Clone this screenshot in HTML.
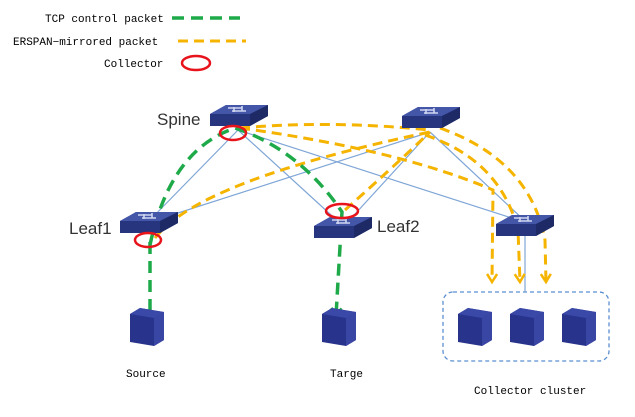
<!DOCTYPE html>
<html><head><style>body{margin:0;background:#fff}svg{display:block}</style></head><body>
<svg width="635" height="417" viewBox="0 0 635 417" xmlns="http://www.w3.org/2000/svg">
<defs>
<g id="sw"><polygon points="-28,-4 -12,-13 30,-13 30,-2 12,8 -28,8" fill="#2d3d8f"/><polygon points="-28,-4 12,-4 30,-13 -12,-13" fill="#4456a8"/><polygon points="-28,-4 12,-4 12,8 -28,8" fill="#27357e"/><polygon points="12,-4 30,-13 30,-2 12,8" fill="#1e2a66"/><path d="M-10,-10 h14 M-6,-7 h14 M4,-12 v5 M-4,-11 v5" stroke="#cfd6f0" stroke-width="1.6" fill="none"/></g>
<g id="sv"><polygon points="-16,-12 -6,-18 18,-14 18,14 8,20 -16,16" fill="#28348c"/><polygon points="8,-8 18,-14 18,14 8,20" fill="#3a46a4"/><polygon points="-16,-12 -6,-18 18,-14 8,-8" fill="#3a48a8"/></g>
<marker id="ao" markerWidth="12" markerHeight="12" refX="9" refY="6" orient="auto" markerUnits="userSpaceOnUse"><path d="M1,1 L9,6 L1,11" fill="none" stroke="#f5b400" stroke-width="2.5"/></marker>
<marker id="ag" markerWidth="12" markerHeight="12" refX="9" refY="6" orient="auto" markerUnits="userSpaceOnUse"><path d="M1,1 L9,6 L1,11" fill="none" stroke="#1faa4a" stroke-width="2.5"/></marker>
</defs>
<g font-family="Liberation Mono, monospace" font-size="11" fill="#000">
<text x="45" y="22">TCP control packet</text>
<text x="13" y="45">ERSPAN−mirrored packet</text>
<text x="104" y="67">Collector</text>
<text x="126" y="377">Source</text>
<text x="330" y="377">Targe</text>
<text x="474" y="394">Collector cluster</text>
</g>
<line x1="172" y1="18" x2="240" y2="18" stroke="#1faa4a" stroke-width="3.5" stroke-dasharray="12,7"/>
<line x1="178" y1="41" x2="246" y2="41" stroke="#f5b400" stroke-width="3" stroke-dasharray="10,6"/>
<ellipse cx="196" cy="63" rx="14" ry="7" fill="none" stroke="#e8141c" stroke-width="2.5"/>
<g font-family="Liberation Sans, sans-serif" font-size="17" fill="#333">
<text x="157" y="125">Spine</text><text x="69" y="234">Leaf1</text><text x="377" y="232">Leaf2</text></g>
<rect x="443" y="292" width="166" height="69" rx="10" fill="none" stroke="#5b8fd0" stroke-width="1.3" stroke-dasharray="4,3"/>
<g stroke="#7fa6d6" stroke-width="1.2">
<line x1="238" y1="130" x2="148" y2="222"/><line x1="238" y1="130" x2="342" y2="225"/><line x1="238" y1="130" x2="524" y2="222"/>
<line x1="430" y1="132" x2="150" y2="222"/><line x1="430" y1="132" x2="345" y2="225"/><line x1="430" y1="132" x2="526" y2="222"/>
<line x1="525" y1="236" x2="525" y2="292"/></g>
<g fill="none" stroke="#f5b400" stroke-width="3" stroke-dasharray="10,6">
<path d="M155,238 Q200,180 430,132"/>
<path d="M240,128 Q330,120 430,130"/>
<path d="M240,128 Q400,150 493,190 L492,282" marker-end="url(#ao)"/>
<path d="M425,135 Q500,160 518,230 L520,282" marker-end="url(#ao)"/>
<path d="M440,128 Q530,160 545,240 L546,282" marker-end="url(#ao)"/>
<path d="M345,210 Q390,170 430,132"/>
</g>
<g fill="none" stroke="#1faa4a" stroke-width="3.5" stroke-dasharray="12,7">
<path d="M150,245 Q170,150 235,128 Q300,150 342,212 L336,316" marker-end="url(#ag)"/>
<path d="M150,242 L150,310"/>
</g>
<use href="#sw" x="238" y="118"/><use href="#sw" x="430" y="120"/>
<use href="#sw" x="148" y="225"/><use href="#sw" x="342" y="230"/><use href="#sw" x="524" y="228"/>
<g fill="none" stroke="#e8141c" stroke-width="2.5">
<ellipse cx="233" cy="133" rx="13" ry="7"/><ellipse cx="148" cy="240" rx="13" ry="7"/><ellipse cx="342" cy="211" rx="16" ry="7"/></g>
<use href="#sv" x="146" y="326"/><use href="#sv" x="338" y="326"/>
<use href="#sv" x="474" y="326"/><use href="#sv" x="526" y="326"/><use href="#sv" x="578" y="326"/>
</svg>
</body></html>
